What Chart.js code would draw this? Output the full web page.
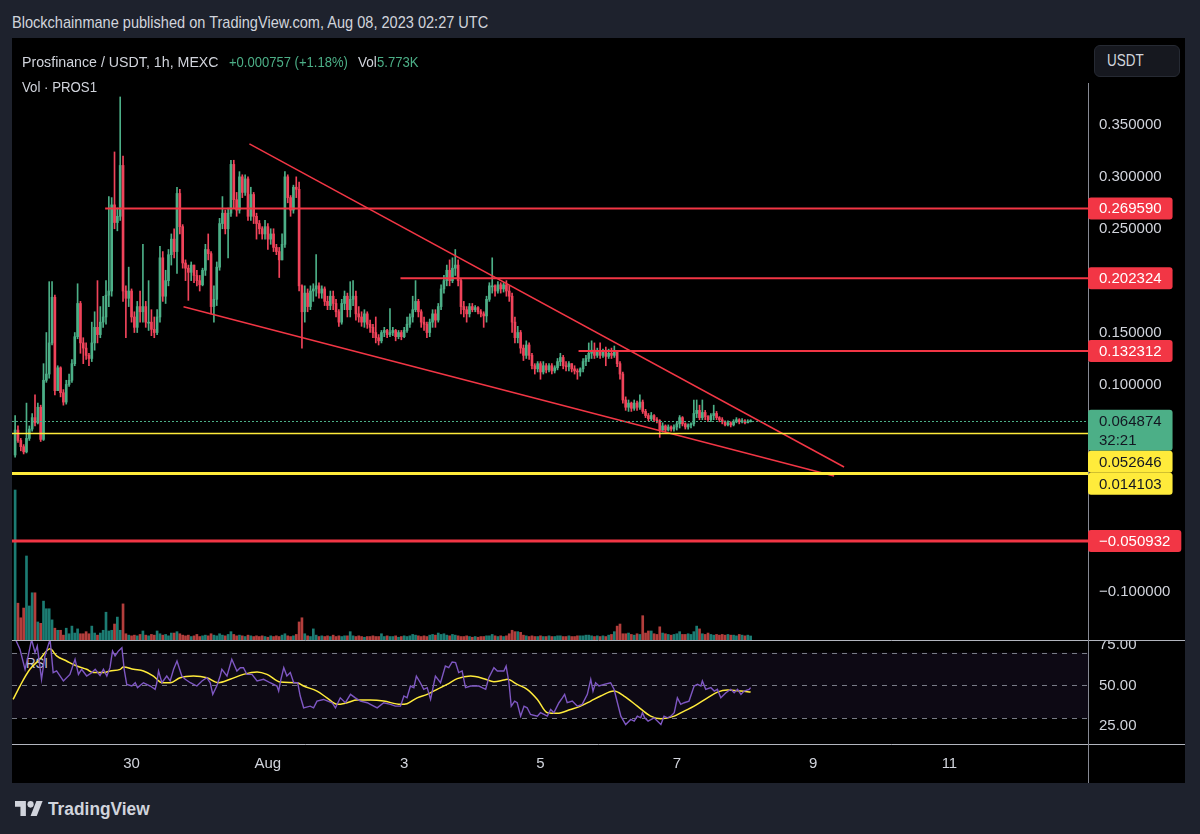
<!DOCTYPE html>
<html>
<head>
<meta charset="utf-8">
<title>Prosfinance / USDT, 1h, MEXC</title>
<script src="https://cdn.jsdelivr.net/npm/chart.js@4.4.1/dist/chart.umd.min.js"></script>
<style>
  body { margin: 0; width: 1200px; height: 834px; background: #1e222d; position: relative; overflow: hidden;
         font-family: "Liberation Sans", Arial, sans-serif; color: #d1d4dc; }
  .panel { position: absolute; left: 12px; top: 38px; width: 1173px; height: 745px; background: #000; }
  .pane { position: absolute; left: 12px; width: 1173px; }
  .txt { position: absolute; white-space: nowrap; line-height: 1; transform-origin: 0 50%; }
  .green { color: #4caf87; }
  #usdtBtn { position: absolute; left: 1094px; top: 45px; width: 86px; height: 32px; border-radius: 6px;
             background: #16181f; border: 1px solid #262a33; box-sizing: border-box; }
  #logo { position: absolute; left: 15px; top: 801px; }
</style>
</head>
<body>
<div class="panel"></div>
<span class="txt" id="rsiLbl" style="font-size:15px">RSI</span>
<div class="pane" style="top:38px;height:602px"><canvas id="mainChart"></canvas></div>
<div class="pane" style="top:640px;height:143px"><canvas id="rsiChart"></canvas></div>
<div id="usdtBtn"></div>
<span class="txt" id="usdt" style="font-size:16px">USDT</span>
<span class="txt" id="hdr" style="font-size:17px">Blockchainmane published on TradingView.com, Aug 08, 2023 02:27 UTC</span>
<span class="txt" id="t1" style="font-size:15px">Prosfinance / USDT, 1h, MEXC</span>
<span class="txt green" id="t2" style="font-size:15px">+0.000757 (+1.18%)</span>
<span class="txt" id="t3" style="font-size:15px">Vol</span>
<span class="txt green" id="t4" style="font-size:15px">5.773K</span>
<span class="txt" id="t5" style="font-size:15px">Vol · PROS1</span>
<svg id="logo" width="28" height="15" viewBox="0 4 36 18" preserveAspectRatio="none">
  <path d="M14 22H7V11H0V4h14v18z" fill="#d1d4dc"/>
  <circle cx="20" cy="8" r="4" fill="#d1d4dc"/>
  <path d="M28 22h-8l7.5-18h8L28 22z" fill="#d1d4dc"/>
</svg>
<span class="txt" id="logoTxt" style="font-size:18px;font-weight:bold">TradingView</span>

<script>
// hourly candles, first one is Jul 28 07:00 (hours counted from Jul 30 00:00)
const firstHour = -41;
const firstOpen = 0.032;
const closes = [
  0.056, 0.046, 0.040, 0.035, 0.048, 0.057, 0.068, 0.063, 0.078, 0.047,
  0.104, 0.110, 0.140, 0.184, 0.094, 0.116, 0.092, 0.083, 0.100, 0.104,
  0.120, 0.146, 0.178, 0.140, 0.135, 0.128, 0.125, 0.140, 0.155, 0.148,
  0.160, 0.165, 0.186, 0.190, 0.273, 0.256, 0.262, 0.311, 0.190, 0.183,
  0.190, 0.165, 0.155, 0.175, 0.170, 0.175, 0.160, 0.160, 0.153, 0.150,
  0.165, 0.222, 0.185, 0.200, 0.225, 0.240, 0.228, 0.284, 0.252, 0.217,
  0.212, 0.208, 0.215, 0.205, 0.200, 0.196, 0.210, 0.230, 0.226, 0.175,
  0.182, 0.213, 0.255, 0.265, 0.250, 0.265, 0.312, 0.278, 0.268, 0.300,
  0.285, 0.298, 0.262, 0.283, 0.262, 0.255, 0.250, 0.245, 0.252, 0.240,
  0.245, 0.232, 0.228, 0.220, 0.235, 0.300, 0.280, 0.268, 0.290, 0.288,
  0.195, 0.170, 0.188, 0.175, 0.190, 0.192, 0.195, 0.188, 0.192, 0.180,
  0.176, 0.185, 0.178, 0.170, 0.160, 0.178, 0.185, 0.172, 0.182, 0.185,
  0.168, 0.165, 0.160, 0.168, 0.158, 0.155, 0.150, 0.145, 0.142, 0.150,
  0.152, 0.148, 0.150, 0.152, 0.146, 0.150, 0.146, 0.152, 0.158, 0.165,
  0.172, 0.180, 0.170, 0.160, 0.158, 0.150, 0.160, 0.168, 0.162, 0.175,
  0.192, 0.200, 0.210, 0.200, 0.212, 0.215, 0.200, 0.175, 0.172, 0.168,
  0.175, 0.172, 0.174, 0.170, 0.168, 0.166, 0.182, 0.195, 0.195, 0.190,
  0.196, 0.192, 0.196, 0.190, 0.185, 0.160, 0.145, 0.150, 0.135, 0.128,
  0.138, 0.128, 0.118, 0.115, 0.120, 0.112, 0.118, 0.114, 0.118, 0.113,
  0.116, 0.122, 0.126, 0.118, 0.117, 0.120, 0.115, 0.113, 0.112, 0.115,
  0.122, 0.125, 0.130, 0.133, 0.128, 0.132, 0.128, 0.131, 0.127, 0.130,
  0.128, 0.131, 0.120, 0.110, 0.085, 0.078, 0.082, 0.077, 0.082, 0.078,
  0.083, 0.074, 0.070, 0.067, 0.070, 0.066, 0.065, 0.056, 0.060, 0.056,
  0.059, 0.057, 0.059, 0.062, 0.068, 0.062, 0.059, 0.061, 0.062, 0.072,
  0.075, 0.068, 0.073, 0.069, 0.066, 0.070, 0.072, 0.068, 0.066, 0.064,
  0.061, 0.063, 0.061, 0.064, 0.066, 0.064, 0.065, 0.063, 0.064117, 0.064874
];
const highs = [
  0.070, 0.060, 0.048, 0.042, 0.082, 0.060, 0.072, 0.090, 0.082, 0.080,
  0.120, 0.150, 0.199, 0.199, 0.186, 0.118, 0.117, 0.095, 0.104, 0.110,
  0.124, 0.150, 0.197, 0.180, 0.145, 0.140, 0.130, 0.160, 0.170, 0.200,
  0.175, 0.185, 0.200, 0.281, 0.280, 0.324, 0.270, 0.377, 0.320, 0.195,
  0.213, 0.192, 0.170, 0.180, 0.190, 0.235, 0.180, 0.200, 0.172, 0.165,
  0.172, 0.233, 0.228, 0.210, 0.230, 0.245, 0.250, 0.290, 0.288, 0.254,
  0.220, 0.215, 0.218, 0.215, 0.210, 0.205, 0.212, 0.235, 0.245, 0.228,
  0.195, 0.218, 0.260, 0.281, 0.268, 0.270, 0.316, 0.316, 0.285, 0.305,
  0.302, 0.302, 0.300, 0.290, 0.285, 0.265, 0.258, 0.252, 0.258, 0.255,
  0.250, 0.250, 0.235, 0.232, 0.245, 0.305, 0.302, 0.282, 0.292, 0.300,
  0.295, 0.196, 0.195, 0.192, 0.195, 0.197, 0.225, 0.198, 0.195, 0.194,
  0.185, 0.190, 0.190, 0.182, 0.172, 0.182, 0.190, 0.188, 0.199, 0.200,
  0.190, 0.175, 0.170, 0.172, 0.170, 0.162, 0.158, 0.165, 0.148, 0.152,
  0.155, 0.153, 0.173, 0.155, 0.153, 0.152, 0.152, 0.155, 0.165, 0.168,
  0.185, 0.200, 0.182, 0.172, 0.165, 0.160, 0.163, 0.172, 0.172, 0.178,
  0.196, 0.205, 0.215, 0.220, 0.222, 0.230, 0.220, 0.202, 0.180, 0.175,
  0.178, 0.178, 0.176, 0.175, 0.172, 0.170, 0.185, 0.198, 0.222, 0.196,
  0.199, 0.198, 0.198, 0.200, 0.195, 0.188, 0.165, 0.156, 0.152, 0.138,
  0.142, 0.140, 0.130, 0.120, 0.122, 0.122, 0.122, 0.120, 0.120, 0.120,
  0.118, 0.125, 0.130, 0.128, 0.122, 0.122, 0.120, 0.118, 0.115, 0.116,
  0.125, 0.128, 0.140, 0.142, 0.140, 0.135, 0.140, 0.134, 0.136, 0.134,
  0.135, 0.137, 0.132, 0.122, 0.112, 0.088, 0.085, 0.083, 0.085, 0.084,
  0.090, 0.085, 0.076, 0.072, 0.073, 0.071, 0.068, 0.066, 0.063, 0.061,
  0.061, 0.060, 0.061, 0.064, 0.070, 0.069, 0.063, 0.062, 0.063, 0.085,
  0.085, 0.080, 0.085, 0.075, 0.070, 0.072, 0.080, 0.074, 0.069, 0.068,
  0.065, 0.065, 0.064, 0.066, 0.068, 0.067, 0.067, 0.066, 0.066, 0.066
];
const lows = [
  0.030, 0.044, 0.036, 0.033, 0.034, 0.046, 0.055, 0.060, 0.062, 0.045,
  0.046, 0.102, 0.106, 0.138, 0.090, 0.094, 0.088, 0.080, 0.081, 0.098,
  0.102, 0.118, 0.144, 0.130, 0.120, 0.124, 0.118, 0.122, 0.133, 0.140,
  0.145, 0.155, 0.158, 0.175, 0.185, 0.250, 0.248, 0.258, 0.180, 0.145,
  0.175, 0.160, 0.150, 0.150, 0.160, 0.160, 0.155, 0.152, 0.147, 0.145,
  0.148, 0.160, 0.180, 0.178, 0.195, 0.215, 0.222, 0.207, 0.245, 0.212,
  0.200, 0.181, 0.200, 0.198, 0.195, 0.190, 0.195, 0.205, 0.220, 0.168,
  0.160, 0.176, 0.210, 0.250, 0.245, 0.222, 0.262, 0.270, 0.262, 0.265,
  0.280, 0.282, 0.258, 0.258, 0.255, 0.240, 0.245, 0.240, 0.240, 0.230,
  0.235, 0.228, 0.225, 0.203, 0.220, 0.232, 0.275, 0.262, 0.265, 0.280,
  0.190, 0.135, 0.160, 0.170, 0.172, 0.180, 0.185, 0.183, 0.183, 0.176,
  0.172, 0.172, 0.172, 0.165, 0.156, 0.158, 0.172, 0.165, 0.165, 0.176,
  0.162, 0.160, 0.156, 0.155, 0.154, 0.150, 0.145, 0.140, 0.138, 0.140,
  0.146, 0.145, 0.146, 0.147, 0.142, 0.144, 0.143, 0.145, 0.150, 0.155,
  0.160, 0.170, 0.165, 0.155, 0.152, 0.145, 0.146, 0.155, 0.155, 0.160,
  0.172, 0.188, 0.195, 0.195, 0.198, 0.205, 0.195, 0.168, 0.165, 0.160,
  0.165, 0.170, 0.170, 0.168, 0.165, 0.155, 0.160, 0.180, 0.188, 0.185,
  0.188, 0.188, 0.189, 0.185, 0.180, 0.150, 0.140, 0.140, 0.130, 0.123,
  0.125, 0.124, 0.115, 0.110, 0.112, 0.105, 0.110, 0.111, 0.112, 0.110,
  0.111, 0.114, 0.118, 0.115, 0.113, 0.113, 0.112, 0.110, 0.105, 0.108,
  0.112, 0.118, 0.122, 0.125, 0.125, 0.126, 0.125, 0.126, 0.118, 0.125,
  0.125, 0.126, 0.117, 0.105, 0.082, 0.075, 0.074, 0.074, 0.075, 0.075,
  0.076, 0.072, 0.068, 0.065, 0.065, 0.064, 0.063, 0.049, 0.054, 0.054,
  0.055, 0.055, 0.055, 0.056, 0.058, 0.060, 0.057, 0.057, 0.058, 0.060,
  0.068, 0.066, 0.066, 0.066, 0.064, 0.064, 0.066, 0.066, 0.064, 0.062,
  0.060, 0.060, 0.059, 0.060, 0.063, 0.062, 0.063, 0.062, 0.063, 0.0638
];
// volume in thousands of PROS
const volumes = [
  216, 53, 32, 46, 121, 49, 68, 68, 26, 24,
  56, 45, 45, 29, 17, 14, 14, 7, 17, 9,
  20, 10, 16, 9, 9, 12, 9, 20, 10, 7,
  10, 14, 40, 13, 14, 23, 33, 14, 52, 9,
  7, 6, 7, 6, 8, 13, 7, 6, 8, 7,
  13, 9, 7, 8, 6, 10, 10, 12, 9, 7,
  6, 7, 5, 6, 8, 5, 6, 7, 6, 9,
  7, 6, 9, 7, 6, 8, 12, 8, 6, 7,
  6, 5, 7, 6, 5, 6, 5, 6, 5, 4,
  6, 5, 6, 5, 7, 9, 6, 5, 6, 8,
  26, 32, 9, 6, 5, 16, 7, 5, 6, 5,
  6, 5, 7, 5, 6, 5, 6, 6, 12, 6,
  5, 6, 5, 4, 5, 5, 6, 5, 5, 9,
  5, 6, 5, 5, 6, 4, 5, 6, 5, 6,
  8, 7, 6, 5, 6, 5, 7, 8, 7, 10,
  8, 9, 7, 6, 8, 7, 6, 5, 5, 6,
  5, 4, 5, 4, 5, 5, 6, 6, 8, 6,
  5, 6, 5, 6, 9, 14, 12, 12, 11, 7,
  6, 5, 6, 5, 5, 6, 5, 5, 6, 5,
  5, 6, 6, 5, 5, 6, 5, 5, 6, 6,
  6, 7, 7, 6, 5, 6, 5, 6, 5, 7,
  8, 12, 20, 23, 9, 9, 10, 8, 7, 9,
  8, 35, 10, 13, 13, 9, 8, 19, 10, 9,
  8, 7, 8, 9, 12, 8, 8, 9, 8, 12,
  20, 16, 9, 8, 10, 8, 7, 8, 7, 8,
  7, 8, 7, 7, 6, 8, 7, 6, 7, 5.773
];

const rsiHours = [
  -41.1, -39.3, -37.5, -36.4, -35.2, -34.0, -33.2, -31.7, -30.5, -28.7, -27.6, -26.4, -24.0, -21.7, -19.9,
  -18.7, -17.6, -15.8, -14.0, -12.8, -11.1, -9.9, -8.7, -7.6, -6.7, -5.8, -4.6, -3.4, -2.6, -1.7,
  0.1, 1.3, 2.1, 4.2, 6.6, 8.3, 8.9, 9.5, 10.7, 12.4, 13.6, 14.8, 16.0, 17.7, 18.9,
  20.7, 23.0, 24.8, 26.5, 27.7, 28.6, 30.0, 31.2, 31.8, 33.6, 35.3, 37.1, 38.3, 39.4, 40.6,
  42.4, 44.2, 46.5, 48.8, 51.2, 51.8, 52.6, 53.6, 54.7, 55.9, 57.1, 58.5, 59.4, 60.6, 62.9,
  64.1, 65.3, 67.6, 70.6, 71.8, 73.5, 75.3, 77.1, 78.8, 80.6, 83.0, 84.1, 86.5, 88.8, 91.2,
  92.9, 94.7, 95.9, 97.0, 98.2, 99.4, 100.3, 101.7, 102.9, 104.1, 105.3, 107.0, 108.8, 110.5, 111.7,
  112.9, 114.1, 115.2, 116.4, 117.6, 119.4, 122.3, 124.7, 125.8, 127.6, 128.8, 131.1, 131.9, 132.9, 133.7,
  134.9, 135.8, 137.0, 138.2, 139.3, 140.5, 142.9, 144.0, 146.4, 147.6, 148.7, 150.5, 151.7, 152.5, 153.4,
  155.2, 157.0, 158.7, 160.5, 161.7, 162.5, 163.4, 164.6, 166.4, 168.7, 169.9, 171.1, 172.3, 174.0, 175.8,
  177.0, 178.1, 179.3, 179.9, 180.7, 181.9, 184.0, 186.4, 187.5, 188.7, 189.9, 191.1, 192.2, 193.4, 194.6,
  196.3, 198.1, 199.3, 200.5, 201.0, 202.2, 204.0, 205.2, 206.3, 207.5, 209.3, 211.0, 212.2, 213.4, 214.6,
  215.7, 217.5, 218
];
const rsiValues = [
  79, 72, 59.8, 68, 78, 70, 74, 53.7, 68, 78, 57.8, 58.8, 52.7, 56.7, 65.9,
  56.7, 59.8, 55.7, 57.8, 59.8, 56.1, 59.8, 55.7, 60.8, 71, 68, 71, 73, 59.8, 50.6,
  49.6, 51.6, 48.6, 51.6, 49.6, 47.6, 51.6, 58.8, 51.6, 55.7, 52.7, 59.8, 64.9, 55.7, 53.7,
  51.6, 49.6, 52.7, 54.7, 51.6, 44.5, 49.6, 55.7, 59.8, 55.7, 65.9, 58.8, 60.8, 60.8, 56.7,
  56.7, 52.7, 53.7, 51.6, 49.6, 46.5, 53.7, 60.8, 55.7, 57.8, 51.6, 51.6, 43.5, 36.3, 37.3,
  36.3, 40.4, 41.4, 39.4, 36.3, 42.4, 39.4, 44.5, 42.4, 40.4, 39.4, 38.4, 36.3, 39.4, 38.4,
  37.3, 37.3, 43.5, 42.4, 49.6, 48.6, 55.7, 51.6, 47.6, 48.6, 41.4, 55.7, 51.6, 61.8, 60.8,
  64.3, 63.9, 57.8, 58.8, 48.6, 49.6, 49.6, 47.6, 54.7, 60.8, 58.8, 58.8, 61.8, 51.6, 37.3,
  40.4, 39.4, 31.2, 37.3, 36.3, 32.2, 31.2, 33.3, 31.2, 35.3, 33.3, 39.4, 42.4, 44.5, 39.4,
  40.4, 37.3, 38.4, 44.5, 53.7, 46.5, 51.6, 49.6, 50.6, 51.6, 47.6, 39.4, 31.2, 26.1, 29.2,
  28.2, 31.2, 30.2, 33.3, 30.2, 28.2, 30.2, 26.1, 31.2, 30.2, 31.2, 33.3, 42.4, 38.4, 39.4,
  40.4, 49.6, 50.6, 49.6, 52.7, 47.6, 48.6, 46.5, 47.6, 42.4, 45.5, 47.6, 45.5, 47.6, 44.5,
  46.5, 47.6, 48.6
];
const rsiMaHours = [
  -41.7, -39.3, -35.8, -32.3, -28.7, -26.4, -22.9, -19.3, -15.8, -13.4, -9.9, -7.6, -4.0, -2.9, 0.7,
  4.2, 7.7, 10.7, 13.6, 17.1, 21.8, 26.5, 30.6, 34.7, 39.4, 44.2, 47.7, 52.4, 58.3, 60.6,
  65.3, 68.8, 72.4, 75.9, 79.4, 84.1, 88.8, 94.7, 97.0, 100.6, 104.1, 107.6, 111.1, 114.7, 119.4,
  124.1, 127.6, 131.1, 132.3, 135.8, 139.3, 142.9, 146.4, 149.9, 154.6, 158.1, 161.7, 165.2, 169.9, 173.4,
  178.1, 182.8, 186.4, 191.1, 194.6, 198.1, 202.8, 206.3, 209.9, 214.6, 218
];
const rsiMaValues = [
  41.4, 49.6, 59.8, 65.9, 72.4, 68, 64.9, 61.8, 59.8, 57.8, 57.8, 58.8, 59.8, 61.2, 59.8,
  58.8, 55.7, 51.6, 51.6, 54.7, 55.7, 54.7, 51.6, 53.7, 56.7, 58.2, 56.7, 52.0, 51.6, 49.6,
  46.5, 42.4, 38.4, 39.4, 41.0, 41.0, 40.4, 38.4, 38.8, 42.4, 44.5, 47.6, 50.6, 54.1, 55.7,
  54.1, 52.2, 53.3, 53.7, 50.6, 47.6, 41.4, 33.3, 32.9, 35.3, 37.3, 40.4, 43.5, 46.5, 43.5,
  37.3, 31.2, 29.6, 31.2, 34.3, 37.3, 42.4, 45.9, 47.1, 46.5, 45.9
];

// drawings on the price pane
const levelPrices = [0.269590, 0.202324, 0.132312, 0.052646, 0.014103, -0.050932];
const levelFromHour = [-9.3, 94.7, 157.4, -43, -43, -43];
const trendStart = [[41.5, 0.3317], [18.3, 0.1749]];
const trendEnd = [[250.9, 0.0204], [247.4, 0.0118]];
const countdown = '32:21';

// axes
const priceTicks = [0.35, 0.30, 0.25, 0.15, 0.10, -0.10];
const rsiTicks = [25, 50, 75];
const rsiBands = [70, 50, 30];
const dayTickHours = [0, 48, 96, 144, 192, 240, 288];
const dayLabels = ['30', 'Aug', '3', '5', '7', '9', '11'];

const xMin = -42.1, xMax = 336.8;
const yMin = -0.14627, yMax = 0.4338;
const volMax = 867;
const rsiMin = 14.2, rsiMax = 77.7;

const upCol = '#4caf87', downCol = '#f0435a';
const redLine = '#f23645', yellowLine = '#ffeb3b';
const levelStyles = [
  { color: redLine, width: 2, text: '#ffffff' },
  { color: redLine, width: 2, text: '#ffffff' },
  { color: redLine, width: 2, text: '#ffffff' },
  { color: yellowLine, width: 1.5, text: '#131722' },
  { color: yellowLine, width: 3, text: '#131722' },
  { color: redLine, width: 3, text: '#ffffff' }
];
const fontFamily = '"Liberation Sans", Arial, sans-serif';
Chart.defaults.font.family = fontFamily;
Chart.defaults.color = '#d1d4dc';

const opens = closes.map((c, i) => i === 0 ? firstOpen : closes[i - 1]);
const hours = closes.map((c, i) => firstHour + i);
const isUp = closes.map((c, i) => c >= opens[i]);
const fmtPrice = v => (v < 0 ? '\u2212' : '') + Math.abs(v).toFixed(6);

const priceDrawings = {
  id: 'priceDrawings',
  afterDatasetsDraw(chart) {
    const { ctx, chartArea: a, scales: { x, y } } = chart;
    ctx.save();
    ctx.beginPath();
    ctx.rect(a.left, a.top, a.right - a.left, a.bottom - a.top);
    ctx.clip();

    ctx.strokeStyle = redLine;
    ctx.lineWidth = 1.5;
    trendStart.forEach((p, i) => {
      ctx.beginPath();
      ctx.moveTo(x.getPixelForValue(p[0]), y.getPixelForValue(p[1]));
      ctx.lineTo(x.getPixelForValue(trendEnd[i][0]), y.getPixelForValue(trendEnd[i][1]));
      ctx.stroke();
    });

    levelPrices.forEach((p, i) => {
      const yy = y.getPixelForValue(p);
      ctx.strokeStyle = levelStyles[i].color;
      ctx.lineWidth = levelStyles[i].width;
      ctx.beginPath();
      ctx.moveTo(Math.max(a.left, x.getPixelForValue(levelFromHour[i])), yy);
      ctx.lineTo(a.right, yy);
      ctx.stroke();
    });

    // last price line
    const last = closes[closes.length - 1];
    const ly = Math.round(y.getPixelForValue(last)) + 0.5;
    ctx.strokeStyle = upCol;
    ctx.lineWidth = 1;
    ctx.setLineDash([2, 2]);
    ctx.beginPath();
    ctx.moveTo(a.left, ly);
    ctx.lineTo(a.right, ly);
    ctx.stroke();
    ctx.restore();
  },
  afterDraw(chart) {
    const { ctx, chartArea: a, scales: { y } } = chart;
    ctx.save();
    ctx.strokeStyle = '#868993';
    ctx.lineWidth = 1;
    ctx.beginPath();
    ctx.moveTo(a.right + 0.5, 45);
    ctx.lineTo(a.right + 0.5, chart.height);
    ctx.stroke();

    // price tags on the axis, pushed down where they would overlap
    const last = closes[closes.length - 1];
    const tags = levelPrices.map((p, i) => ({
      top: y.getPixelForValue(p) - 11, h: 22, lines: [fmtPrice(p)],
      bg: levelStyles[i].color, fg: levelStyles[i].text
    }));
    tags.push({ top: y.getPixelForValue(last) - 11, h: 41, lines: [fmtPrice(last), countdown], bg: upCol, fg: '#131722' });
    tags.sort((m, n) => m.top - n.top);
    for (let i = 1; i < tags.length; i++) {
      const prev = tags[i - 1];
      if (tags[i].top < prev.top + prev.h) tags[i].top = prev.top + prev.h;
    }
    ctx.font = '15px ' + fontFamily;
    ctx.textBaseline = 'middle';
    ctx.textAlign = 'left';
    tags.forEach(t => {
      const w = ctx.measureText(t.lines[0]).width + 22;
      ctx.fillStyle = t.bg;
      ctx.beginPath();
      ctx.roundRect(a.right, t.top, w, t.h, 3);
      ctx.fill();
      ctx.fillStyle = t.fg;
      t.lines.forEach((s, k) => ctx.fillText(s, a.right + 11, t.top + 11.5 + k * 19));
    });
    ctx.restore();
  }
};

new Chart(document.getElementById('mainChart'), {
  type: 'bar',
  data: {
    datasets: [
      {
        data: hours.map((h, i) => ({ x: h, y: [opens[i], closes[i]] })),
        backgroundColor: isUp.map(u => u ? upCol : downCol),
        barThickness: 2, minBarLength: 1, grouped: false, yAxisID: 'y', order: 1
      },
      {
        data: hours.map((h, i) => ({
          x: h,
          y: [Math.min(lows[i], opens[i], closes[i]), Math.max(highs[i], opens[i], closes[i])]
        })),
        backgroundColor: isUp.map(u => u ? upCol : downCol),
        barThickness: 1, grouped: false, yAxisID: 'y', order: 2
      },
      {
        data: hours.map((h, i) => ({ x: h, y: volumes[i] })),
        backgroundColor: isUp.map(u => u ? 'rgba(38,166,154,0.75)' : 'rgba(239,83,80,0.75)'),
        barThickness: 2, grouped: false, yAxisID: 'yv', order: 3
      }
    ]
  },
  options: {
    responsive: true,
    maintainAspectRatio: false,
    animation: false,
    devicePixelRatio: 1,
    layout: { padding: 0 },
    plugins: { legend: { display: false }, tooltip: { enabled: false } },
    scales: {
      x: { type: 'linear', min: xMin, max: xMax, display: false, offset: false },
      y: {
        position: 'right', min: yMin, max: yMax,
        grid: { display: false, drawTicks: false }, border: { display: false },
        ticks: { color: '#d1d4dc', font: { size: 15 }, padding: 11, autoSkip: false, callback: v => fmtPrice(v) },
        afterBuildTicks: s => { s.ticks = priceTicks.map(v => ({ value: v })); },
        afterFit: s => { s.width = 97; s.paddingTop = 0; s.paddingBottom = 0; }
      },
      yv: { display: false, min: 0, max: volMax }
    }
  },
  plugins: [priceDrawings]
});

const rsiPaneDeco = {
  id: 'rsiPaneDeco',
  beforeDatasetsDraw(chart) {
    const { ctx, chartArea: a, scales: { y } } = chart;
    const top = y.getPixelForValue(rsiBands[0]);
    const bot = y.getPixelForValue(rsiBands[2]);
    ctx.save();
    ctx.fillStyle = 'rgba(126,87,194,0.1)';
    ctx.fillRect(a.left, top, a.right - a.left, bot - top);
    ctx.strokeStyle = '#787b86';
    ctx.lineWidth = 1;
    ctx.setLineDash([5, 5]);
    rsiBands.forEach(v => {
      const yy = Math.round(y.getPixelForValue(v)) + 0.5;
      ctx.beginPath();
      ctx.moveTo(a.left, yy);
      ctx.lineTo(a.right, yy);
      ctx.stroke();
    });
    ctx.restore();
  },
  afterDraw(chart) {
    const { ctx, chartArea: a } = chart;
    ctx.save();
    ctx.lineWidth = 1;
    ctx.strokeStyle = '#b2b5be';
    ctx.beginPath();
    ctx.moveTo(0, 0.5); ctx.lineTo(chart.width, 0.5);
    ctx.moveTo(0, a.bottom + 0.5); ctx.lineTo(chart.width, a.bottom + 0.5);
    ctx.stroke();
    ctx.strokeStyle = '#868993';
    ctx.beginPath();
    ctx.moveTo(a.right + 0.5, 0); ctx.lineTo(a.right + 0.5, chart.height);
    ctx.stroke();
    ctx.restore();
  }
};

new Chart(document.getElementById('rsiChart'), {
  type: 'line',
  data: {
    datasets: [
      {
        data: rsiHours.map((h, i) => ({ x: h, y: rsiValues[i] })),
        borderColor: '#7e57c2', borderWidth: 1.4, pointRadius: 0, tension: 0
      },
      {
        data: rsiMaHours.map((h, i) => ({ x: h, y: rsiMaValues[i] })),
        borderColor: '#ffeb3b', borderWidth: 1.5, pointRadius: 0, cubicInterpolationMode: 'monotone'
      }
    ]
  },
  options: {
    responsive: true,
    maintainAspectRatio: false,
    animation: false,
    devicePixelRatio: 1,
    layout: { padding: 0 },
    plugins: { legend: { display: false }, tooltip: { enabled: false } },
    scales: {
      x: {
        type: 'linear', position: 'bottom', min: xMin, max: xMax, offset: false,
        grid: { display: false, drawTicks: false }, border: { display: false },
        ticks: { color: '#d1d4dc', font: { size: 15 }, padding: 11, autoSkip: false, maxRotation: 0,
                 callback: v => dayLabels[dayTickHours.indexOf(v)] },
        afterBuildTicks: s => { s.ticks = dayTickHours.map(v => ({ value: v })); },
        afterFit: s => { s.height = 39; s.paddingLeft = 0; s.paddingRight = 0; }
      },
      y: {
        position: 'right', min: rsiMin, max: rsiMax,
        grid: { display: false, drawTicks: false }, border: { display: false },
        ticks: { color: '#d1d4dc', font: { size: 15 }, padding: 11, autoSkip: false, callback: v => v.toFixed(2) },
        afterBuildTicks: s => { s.ticks = rsiTicks.map(v => ({ value: v })); },
        afterFit: s => { s.width = 97; s.paddingTop = 0; s.paddingBottom = 0; }
      }
    }
  },
  plugins: [rsiPaneDeco]
});

// put the overlay texts where the reference has them
function place(id, left, cy, width) {
  const el = document.getElementById(id);
  el.style.left = left + 'px';
  el.style.top = (cy - el.offsetHeight / 2) + 'px';
  el.style.transform = 'scaleX(' + (width / el.offsetWidth) + ')';
}
place('hdr', 12, 22, 476);
place('t1', 22, 61, 197);
place('t2', 229, 61, 119);
place('t3', 358, 61, 19);
place('t4', 377, 61, 42);
place('t5', 22, 86, 75);
place('usdt', 1107, 61, 37);
place('rsiLbl', 26, 662, 22);
place('logoTxt', 48, 809, 102);
</script>
</body>
</html>
